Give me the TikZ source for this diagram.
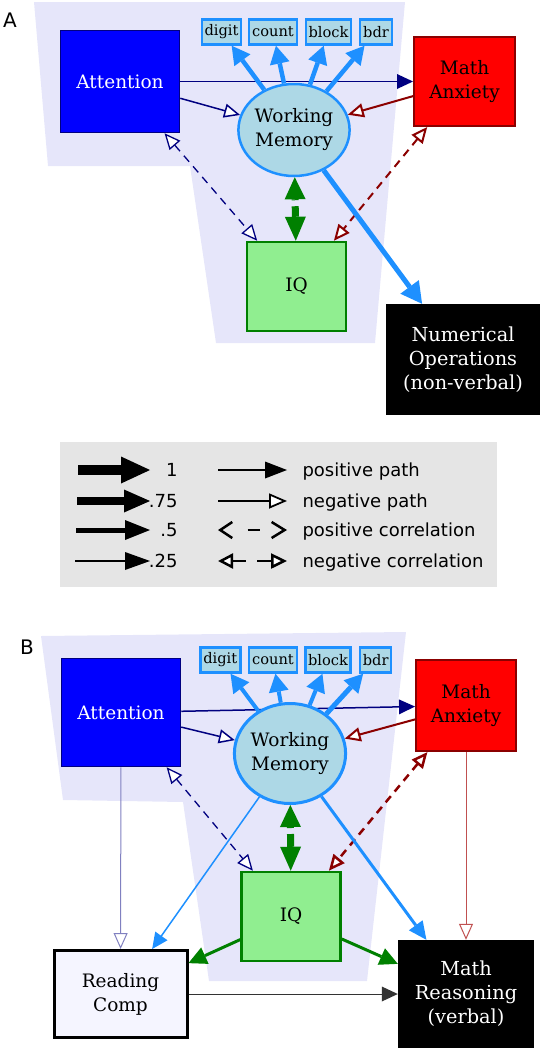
\documentclass[tikz,border=0pt]{standalone}
\usepackage{fontspec}
\setmainfont{DejaVu Serif}
\setsansfont{DejaVu Sans}
\usetikzlibrary{arrows.meta,positioning,shapes.geometric}
\pgfdeclarelayer{background}
\pgfsetlayers{background,main}
\definecolor{navyc}{RGB}{0,0,128}
\definecolor{darkredc}{RGB}{139,0,0}
\definecolor{dodger}{RGB}{30,144,255}
\definecolor{greenc}{RGB}{0,128,0}
\definecolor{lgreen}{RGB}{144,238,144}
\definecolor{lblue}{RGB}{173,216,230}
\definecolor{lav}{RGB}{230,230,250}
\definecolor{leggray}{RGB}{229,229,229}
\definecolor{rcfill}{RGB}{245,245,255}
\definecolor{paleblue}{RGB}{128,128,192}
\definecolor{palered}{RGB}{192,80,80}

\begin{document}
\begin{tikzpicture}[x=1pt,y=-1pt,
  box/.style={rectangle,inner sep=0pt,align=center,font=\fontsize{18.5}{24}\selectfont},
  attn/.style={box,draw=navyc,fill=blue,text=white,line width=1.5pt},
  anx/.style={box,draw=darkredc,fill=red,line width=2pt},
  iqbox/.style={box,draw=greenc,fill=lgreen,line width=2.5pt},
  outbox/.style={box,fill=black,text=white,font=\fontsize{19.3}{24}\selectfont},
  small/.style={rectangle,draw=dodger,fill=lblue,line width=2.5pt,inner sep=0pt,minimum height=25pt,font=\fontsize{14.6}{16}\selectfont},
  wm/.style={ellipse,draw=dodger,fill=lblue,inner sep=0pt,align=center,font=\fontsize{18.5}{24}\selectfont},
  lfont/.style={font=\sffamily\fontsize{18}{22}\selectfont},
  ppath/.style={-{Triangle[length=16pt,width=15pt,line width=0pt]}},
  npath/.style={-{Triangle[fill=white,length=16pt,width=14pt]}},
  ncor/.style={{Triangle[fill=white,length=16pt,width=14pt]}-{Triangle[fill=white,length=16pt,width=14pt]},dash pattern=on 8pt off 6pt},
  wmpath/.style={dodger,line width=4.5pt,-{Triangle[length=18pt,width=20pt,line width=0pt]}},
  gpath/.style={greenc,line width=3pt,-{Triangle[length=18pt,width=18pt,line width=0pt]}},
  iqcor/.style={greenc,line width=7pt,{Triangle[length=22pt,width=21pt,line width=0pt]}-{Triangle[length=24pt,width=21pt,line width=0pt]},dash pattern=on 1pt off 6pt on 40pt}
]
\useasboundingbox (0,0) rectangle (541,1050);

\node[font=\sffamily\fontsize{20}{24}\selectfont] (lbl_a) at (10,20) {A};
\node[attn,minimum width=119pt,minimum height=102pt] (att_a) at (120,81.5) {Attention};
\node[small,minimum width=39pt] (dig_a) at (221.5,32) {digit};
\node[small,minimum width=48pt] (cnt_a) at (273,32) {count};
\node[small,minimum width=45pt] (blk_a) at (328.5,32) {block};
\node[small,minimum width=32pt] (bdr_a) at (376,32) {bdr};
\node[wm,line width=2.5pt,minimum width=111pt,minimum height=92pt] (wm_a) at (294,130) {Working\\Memory};
\node[anx,minimum width=101pt,minimum height=89pt] (ma_a) at (464.5,81.5) {Math\\Anxiety};
\node[iqbox,minimum width=99pt,minimum height=89pt] (iq_a) at (296.5,286.5) {IQ};
\node[outbox,minimum width=154pt,minimum height=111pt] (no_a) at (463,359.5) {Numerical\\Operations\\(non-verbal)};

\path[navyc,line width=1.5pt,npath] (att_a) edge (wm_a);
\path[darkredc,line width=2pt,npath] (ma_a) edge (wm_a);
\path[navyc,line width=1.3pt,ncor] (att_a) edge (iq_a);
\path[darkredc,line width=2pt,ncor] (ma_a) edge (iq_a);
\path[iqcor] (wm_a) edge (iq_a);
\path[wmpath] (wm_a) edge (dig_a) (wm_a) edge (cnt_a) (wm_a) edge (blk_a) (wm_a) edge (bdr_a);
\path[wmpath,line width=5pt,-{Triangle[length=21pt,width=23pt,line width=0pt]}] (wm_a) edge (no_a);

\node[fill=leggray,inner sep=0pt,minimum width=437pt,minimum height=145pt] (leg) at (278.5,514.5) {};
\coordinate (l1a) at (78,470);  \coordinate (l1b) at (150,470);
\coordinate (l2a) at (77,501);  \coordinate (l2b) at (150,501);
\coordinate (l3a) at (76,530);  \coordinate (l3b) at (150,530);
\coordinate (l4a) at (75,561);  \coordinate (l4b) at (150,561);
\draw[line width=10pt,-{Triangle[length=29pt,width=27pt,line width=0pt]}] (l1a) -- (l1b);
\draw[line width=7.5pt,-{Triangle[length=26pt,width=23pt,line width=0pt]}] (l2a) -- (l2b);
\draw[line width=5pt,-{Triangle[length=25pt,width=20pt,line width=0pt]}] (l3a) -- (l3b);
\draw[line width=2.5pt,-{Triangle[length=25pt,width=18pt,line width=0pt]}] (l4a) -- (l4b);
\node[lfont,anchor=base east] (v1) at (181,476.5) {1};
\node[lfont,anchor=base east] (v2) at (181,507.5) {.75};
\node[lfont,anchor=base east] (v3) at (181,536.5) {.5};
\node[lfont,anchor=base east] (v4) at (181,567.5) {.25};
\coordinate (m1a) at (218,470);  \coordinate (m1b) at (287,470);
\coordinate (m2a) at (218,501);  \coordinate (m2b) at (287,501);
\coordinate (m3a) at (218,530);  \coordinate (m3b) at (287,530);
\coordinate (m4a) at (218,561);  \coordinate (m4b) at (287,561);
\draw[line width=1.8pt,-{Triangle[length=22pt,width=17pt,line width=0pt]}] (m1a) -- (m1b);
\draw[line width=1.8pt,-{Triangle[fill=white,length=18pt,width=15pt]}] (m2a) -- (m2b);
\draw[line width=2.5pt,{Straight Barb[length=12pt,width=16pt]}-{Straight Barb[length=13pt,width=16pt]},dash pattern=on 0pt off 26pt on 12pt off 40pt] (m3a) -- (m3b);
\draw[line width=2.5pt,{Triangle[fill=white,length=15pt,width=15pt]}-{Triangle[fill=white,length=16pt,width=15pt]},dash pattern=on 14pt off 11pt on 30pt] (m4a) -- (m4b);
\node[lfont,anchor=base west] (t1) at (299,476.5) {positive path};
\node[lfont,anchor=base west] (t2) at (299,507.5) {negative path};
\node[lfont,anchor=base west] (t3) at (299,536.5) {positive correlation};
\node[lfont,anchor=base west] (t4) at (299,567.5) {negative correlation};

\node[font=\sffamily\fontsize{20}{24}\selectfont] (lbl_b) at (27,647) {B};
\node[attn,minimum width=119pt,minimum height=108pt] (att_b) at (121,712.5) {Attention};
\node[small,minimum width=40pt] (dig_b) at (220.3,660) {digit};
\node[small,minimum width=48pt] (cnt_b) at (273,660) {count};
\node[small,minimum width=45pt] (blk_b) at (328,660) {block};
\node[small,minimum width=31pt] (bdr_b) at (375.7,660) {bdr};
\node[wm,line width=3pt,minimum width=107pt,minimum height=100pt] (wm_b) at (290,753.5) {Working\\Memory};
\node[anx,minimum width=100pt,minimum height=91pt] (ma_b) at (466,705.5) {Math\\Anxiety};
\node[iqbox,minimum width=99pt,minimum height=89pt] (iq_b) at (291,916.5) {IQ};
\node[box,draw=black,fill=rcfill,line width=3pt,minimum width=133pt,minimum height=87pt] (rc_b) at (120.5,994) {Reading\\Comp};
\node[outbox,minimum width=136pt,minimum height=108pt] (mr_b) at (466,994) {Math\\Reasoning\\(verbal)};

\path[navyc,line width=1.5pt,npath] (att_b) edge (wm_b);
\path[darkredc,line width=2pt,npath] (ma_b) edge (wm_b);
\path[navyc,line width=1.3pt,ncor] (att_b) edge (iq_b);
\path[darkredc,line width=2.5pt,ncor] (ma_b) edge (iq_b);
\path[iqcor] (wm_b) edge (iq_b);
\path[wmpath,line width=4pt] (wm_b) edge (dig_b) (wm_b) edge (cnt_b) (wm_b) edge (blk_b);
\path[wmpath,line width=5pt] (wm_b) edge (bdr_b);
\path[dodger,line width=1.5pt,-{Triangle[length=16pt,width=15pt,line width=0pt]}] (wm_b) edge (rc_b);
\path[dodger,line width=3pt,-{Triangle[length=18pt,width=17pt,line width=0pt]}] (wm_b) edge (mr_b);
\path[gpath] (iq_b) edge (rc_b) (iq_b) edge (mr_b);
\path[paleblue,line width=1pt,npath] (att_b) edge (rc_b);
\path[palered,line width=1pt,npath] (ma_b) edge (mr_b);
\path[black!80,line width=1pt,ppath] (rc_b) edge (mr_b);

\begin{pgfonlayer}{background}
  \fill[lav] (34,2) -- (405,2) -- (375,343) -- (216,343) -- (190,166) -- (48,166) -- cycle;
  \fill[lav] (41,636) -- (406,632) -- (367,981) -- (209,981) -- (183,802) -- (63,800) -- cycle;
  \path[navyc,line width=1.5pt,ppath] (att_a) edge (ma_a) (att_b) edge (ma_b);
\end{pgfonlayer}
\end{tikzpicture}
\end{document}
